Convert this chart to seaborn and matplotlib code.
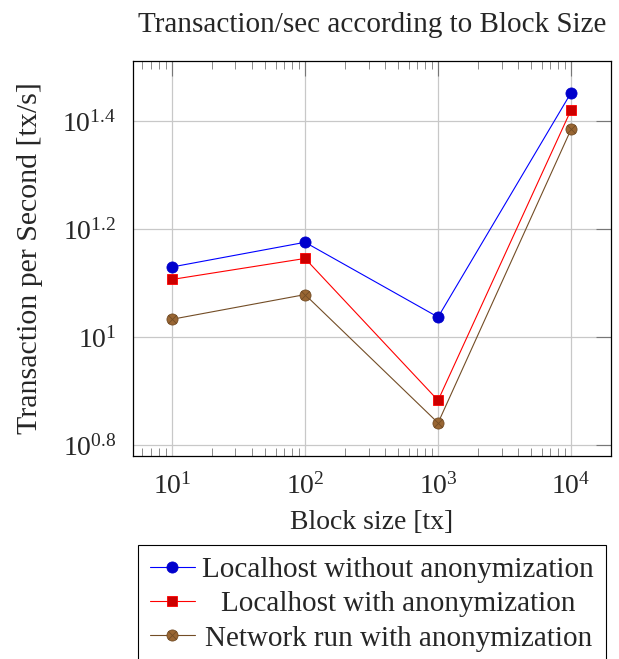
import numpy as np
import matplotlib
matplotlib.use('Agg')
import matplotlib.pyplot as plt
from matplotlib.path import Path
from matplotlib.ticker import FixedLocator, FixedFormatter, LogLocator, NullFormatter
import seaborn as sns

# дані з графіка
block_sizes = [10, 100, 1000, 10000]
local_no_anon = [13.5, 15.0, 10.9, 28.4]
local_anon = [12.8, 14.0, 7.64, 26.4]
network_anon = [10.8, 12.0, 6.94, 24.3]

series_names = ['Localhost without anonymization',
                'Localhost with anonymization',
                'Network run with anonymization']

y_tick_exps = [0.8, 1.0, 1.2, 1.4]
y_tick_labels = ['$10^{0.8}$', '$10^{1}$', '$10^{1.2}$', '$10^{1.4}$']

sns.set_style('white')
plt.rcParams['font.family'] = ['Liberation Serif', 'DejaVu Serif']
plt.rcParams['mathtext.fontset'] = 'custom'
plt.rcParams['mathtext.rm'] = 'Liberation Serif'
plt.rcParams['mathtext.it'] = 'Liberation Serif:italic'
plt.rcParams['mathtext.bf'] = 'Liberation Serif:bold'

# маркер "otimes": коло з хрестиком всередині
d = np.sqrt(0.5)
cross = Path([(-d, -d), (d, d), (-d, d), (d, -d)],
             [Path.MOVETO, Path.LINETO, Path.MOVETO, Path.LINETO])
otimes = Path.make_compound_path(Path.unit_circle(), cross)

fig = plt.figure(figsize=(6.19, 6.59), dpi=100)
ax = fig.add_axes([0.2149, 0.308, 0.7722, 0.5994])

styles = [
    dict(color='#0000ff', marker='o', mfc='#0000cc', mec='#0000cc', ms=8),
    dict(color='#ff0000', marker='s', mfc='#cc0000', mec='#ff0000', ms=7.5),
    dict(color='#734d26', marker=otimes, mfc='#996633', mec='#734d26', ms=8),
]

for vals, name, st in zip([local_no_anon, local_anon, network_anon], series_names, styles):
    sns.lineplot(x=block_sizes, y=vals, ax=ax, label=name,
                 color=st['color'], marker=st['marker'],
                 markerfacecolor=st['mfc'], markeredgecolor=st['mec'],
                 markersize=st['ms'], markeredgewidth=0.6, linewidth=0.8)

ax.set_xscale('log')
ax.set_yscale('log')
ax.set_xlim(10 ** 0.707, 10 ** 4.3)
ax.set_ylim(10 ** 0.78, 10 ** 1.512)

ax.xaxis.set_major_locator(FixedLocator(block_sizes))
ax.xaxis.set_minor_locator(LogLocator(base=10, subs=np.arange(2, 10)))
ax.xaxis.set_minor_formatter(NullFormatter())
ax.yaxis.set_major_locator(FixedLocator([10 ** e for e in y_tick_exps]))
ax.yaxis.set_major_formatter(FixedFormatter(y_tick_labels))
ax.yaxis.set_minor_locator(FixedLocator([]))

ax.tick_params(axis='both', which='major', direction='in', length=11, width=0.8,
               color='#777777', labelsize=20, top=True, right=True)
ax.tick_params(axis='y', which='major', pad=12)
ax.tick_params(axis='x', which='minor', direction='in', length=6, width=0.6,
               color='#777777', top=True, bottom=True)
ax.tick_params(axis='x', which='major', pad=12)

ax.grid(True, which='major', color='#c8c8c8', linewidth=0.9)
for sp in ax.spines.values():
    sp.set_color('black')
    sp.set_linewidth(0.9)

ax.set_title('Transaction/sec according to Block Size', fontsize=21, pad=21)
ax.set_xlabel('Block size [tx]', fontsize=20, labelpad=8)
ax.set_ylabel('Transaction per Second [tx/s]', fontsize=21.5, labelpad=14)

leg = ax.legend(loc='upper center', bbox_to_anchor=(0.5, -0.225), fontsize=21,
                frameon=True, fancybox=False, edgecolor='black', framealpha=1,
                handlelength=1.55, handletextpad=0.25, labelspacing=0.27,
                borderpad=0.4, borderaxespad=0)
leg.get_frame().set_linewidth(0.8)

# текст легенди по центру колонки, як у pgfplots
fig.canvas.draw()
renderer = fig.canvas.get_renderer()
widths = [t.get_window_extent(renderer).width for t in leg.get_texts()]
max_w = max(widths)
for t, w in zip(leg.get_texts(), widths):
    t.set_x((max_w - w) / 2)

fig.savefig('out.png', dpi=100)
